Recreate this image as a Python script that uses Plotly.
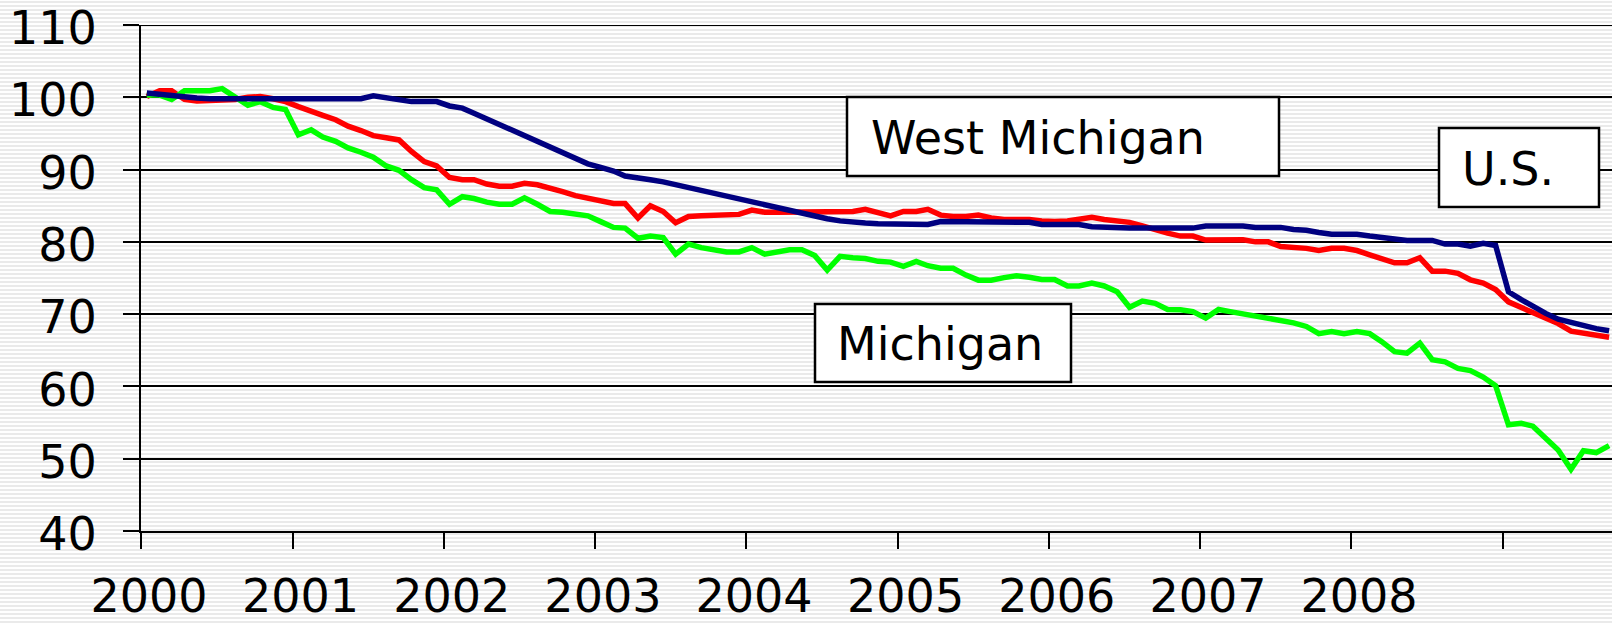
import pandas as pd
import plotly.graph_objects as go

# ---------------- data (monthly index, Jan 2000 = 100) ----------------
months = pd.date_range("2000-01-01", periods=117, freq="MS")

us = [100.6, 100.4, 100.2, 100.0, 99.9, 99.8, 99.8, 99.8, 99.8, 99.8, 99.8, 99.8,
      99.8, 99.8, 99.8, 99.8, 99.8, 99.8, 100.2, 99.9, 99.5, 99.4, 99.4, 99.4,
      98.8, 98.5, 97.8, 97.0, 96.2, 95.4, 94.6, 93.8, 93.0, 92.2, 91.4, 90.8,
      90.3, 89.8, 89.1, 88.9, 88.6, 88.3, 87.9, 87.6, 87.15, 86.8, 86.3, 85.9,
      85.6, 85.2, 84.7, 84.3, 83.9, 83.5, 83.2, 82.9, 82.7, 82.6, 82.5, 82.5,
      82.4, 82.4, 82.4, 82.8, 82.8, 82.8, 82.8, 82.8, 82.8, 82.75, 82.7, 82.4,
      82.4, 82.4, 82.4, 82.1, 82.0, 81.95, 81.9, 81.9, 81.9, 81.9, 81.9, 81.9,
      82.2, 82.2, 82.2, 82.2, 82.0, 82.0, 82.0, 81.7, 81.6, 81.3, 81.05, 81.05,
      81.05, 80.8, 80.6, 80.5, 80.2, 80.2, 80.2, 79.7, 79.7, 79.4, 79.8, 79.5,
      73.1, 72.0, 71.0, 70.1, 69.3, 68.8, 68.4, 68.0, 67.7]

west_michigan = [100.1, 100.9, 100.9, 99.7, 99.5, 99.6, 99.7, 99.7, 100.0, 100.1, 99.8, 99.4,
                 98.7, 98.0, 97.5, 96.9, 96.0, 95.4, 94.7, 94.4, 94.1, 92.5, 91.1, 90.5,
                 88.9, 88.6, 88.6, 88.0, 87.7, 87.7, 88.1, 87.9, 87.5, 86.95, 86.4, 86.1,
                 85.8, 85.3, 85.3, 83.3, 85.0, 84.2, 82.65, 83.5, 83.6, 83.7, 83.8, 83.8,
                 84.4, 84.1, 84.1, 84.1, 84.1, 84.1, 84.2, 84.2, 84.2, 84.5, 84.0, 83.6,
                 84.2, 84.2, 84.5, 83.7, 83.5, 83.5, 83.7, 83.3, 83.1, 83.1, 83.1, 82.9,
                 82.8, 82.9, 83.1, 83.4, 83.1, 82.8, 82.7, 82.2, 81.6, 81.2, 80.8, 80.8,
                 80.25, 80.25, 80.25, 80.3, 80.0, 80.0, 79.35, 79.3, 79.1, 78.8, 79.1, 79.1,
                 78.8, 78.2, 77.6, 77.1, 77.1, 77.8, 75.95, 75.95, 75.65, 74.75, 74.3, 73.4,
                 71.7, 70.95, 70.2, 69.4, 68.7, 67.65, 67.35, 67.1, 66.8]

michigan = [100.3, 100.3, 99.7, 100.9, 100.9, 100.9, 101.2, 100.0, 98.9, 99.4, 98.6, 98.3,
            94.8, 95.5, 94.5, 93.9, 93.0, 92.4, 91.7, 90.5, 89.9, 88.6, 87.5, 87.2,
            85.2, 86.25, 86.0, 85.5, 85.2, 85.2, 86.1, 85.2, 84.2, 84.1, 83.9, 83.6,
            82.8, 82.0, 81.9, 80.5, 80.8, 80.6, 78.3, 79.7, 79.2, 78.9, 78.6, 78.6,
            79.2, 78.3, 78.5, 78.9, 78.9, 78.1, 76.1, 78.0, 77.8, 77.7, 77.3, 77.2,
            76.6, 77.3, 76.7, 76.35, 76.35, 75.4, 74.7, 74.7, 75.05, 75.3, 75.1, 74.8,
            74.8, 73.9, 73.9, 74.3, 73.9, 73.1, 70.95, 71.8, 71.5, 70.65, 70.6, 70.35,
            69.45, 70.65, 70.35, 70.05, 69.8, 69.5, 69.2, 68.8, 68.3, 67.3, 67.6, 67.3,
            67.6, 67.3, 66.2, 64.8, 64.6, 66.0, 63.7, 63.4, 62.5, 62.2, 61.3, 60.1,
            54.7, 54.9, 54.5, 52.8, 51.2, 48.55, 51.1, 50.85, 51.8]

year_ticks = pd.date_range("2000-01-01", "2009-01-01", freq="YS")
year_labels = ["2000", "2001", "2002", "2003", "2004", "2005", "2006", "2007", "2008", ""]
y_ticks = [40, 50, 60, 70, 80, 90, 100, 110]

labels = ["West Michigan", "Michigan", "U.S."]

# ---------------- layout geometry ----------------
W, H = 1612, 624
ML, MR, MT, MB = 141, 0, 25, 93
PW, PH = W - ML - MR, H - MT - MB


def px_x(px):
    return (px - ML) / PW


def px_y(py):
    return (H - MB - py) / PH


FONT = "DejaVu Sans, Verdana, sans-serif"
FS = 46

# points sit mid-month (category style axis)
x_pts = months + pd.Timedelta(days=14)

fig = go.Figure()
fig.add_trace(go.Scatter(x=x_pts, y=west_michigan, mode="lines", name=labels[0],
                         line=dict(color="#ff0000", width=5.5)))
fig.add_trace(go.Scatter(x=x_pts, y=michigan, mode="lines", name=labels[1],
                         line=dict(color="#00ff00", width=5.5)))
fig.add_trace(go.Scatter(x=x_pts, y=us, mode="lines", name=labels[2],
                         line=dict(color="#000080", width=5.5)))

# striped page background (decoration)
stripe_path = ""
for k in range(0, H // 4 + 2):
    py = k * 4 + 2
    stripe_path += "M{:.5f},{:.5f} L{:.5f},{:.5f} ".format(px_x(0), px_y(py), px_x(W), px_y(py))
shapes = [dict(type="path", xref="paper", yref="paper", path=stripe_path,
               line=dict(color="#e3e3e3", width=1.6), layer="below")]

# top gridline (at the edge of the range)
shapes.append(dict(type="line", xref="paper", yref="y", x0=-16 / PW, x1=1,
                   y0=y_ticks[-1], y1=y_ticks[-1],
                   line=dict(color="black", width=2), layer="below"))

# label boxes (pixel boxes -> paper)
boxes = [
    (847, 97, 1279, 176, 869),
    (815, 304, 1071, 382, 835),
    (1439, 128, 1599, 207, 1460),
]
annotations = []
for (x0, y0, x1, y1, tx), txt in zip(boxes, labels):
    shapes.append(dict(type="rect", xref="paper", yref="paper",
                       x0=px_x(x0), x1=px_x(x1), y0=px_y(y1), y1=px_y(y0),
                       line=dict(color="black", width=2.5), fillcolor="white", layer="above"))
    annotations.append(dict(text=txt, xref="paper", yref="paper",
                            x=px_x(tx), y=px_y((y0 + y1) / 2 + 1),
                            xanchor="left", yanchor="middle", showarrow=False,
                            font=dict(family=FONT, size=FS, color="black")))

fig.update_layout(
    width=W, height=H, autosize=False,
    margin=dict(l=ML, r=MR, t=MT, b=MB, pad=0, autoexpand=False),
    paper_bgcolor="white", plot_bgcolor="rgba(0,0,0,0)",
    showlegend=False,
    font=dict(family=FONT, size=FS, color="black"),
    shapes=shapes, annotations=annotations,
    xaxis=dict(type="date", range=["2000-01-01", "2009-09-22"],
               tickmode="array", tickvals=year_ticks, ticktext=year_labels,
               showgrid=False, zeroline=False, automargin=False,
               showline=True, linecolor="black", linewidth=2,
               ticks="outside", ticklen=16, tickwidth=2, tickcolor="black",
               ticklabelstandoff=8, ticklabelshift=8, ticklabeloverflow="allow",
               tickfont=dict(family=FONT, size=FS, color="black")),
    yaxis=dict(range=[40, 110], tickmode="array", tickvals=y_ticks,
               showgrid=True, gridcolor="black", gridwidth=2, zeroline=False,
               automargin=False,
               showline=True, linecolor="black", linewidth=2,
               ticks="outside", ticklen=16, tickwidth=2, tickcolor="black",
               ticklabelstandoff=17, ticklabelshift=3, ticklabeloverflow="allow",
               tickfont=dict(family=FONT, size=FS, color="black")),
)

fig.write_html("out.html", include_plotlyjs=True, full_html=True,
               config={"displayModeBar": False},
               post_script="document.body.style.margin='0';document.body.style.overflow='hidden';")
